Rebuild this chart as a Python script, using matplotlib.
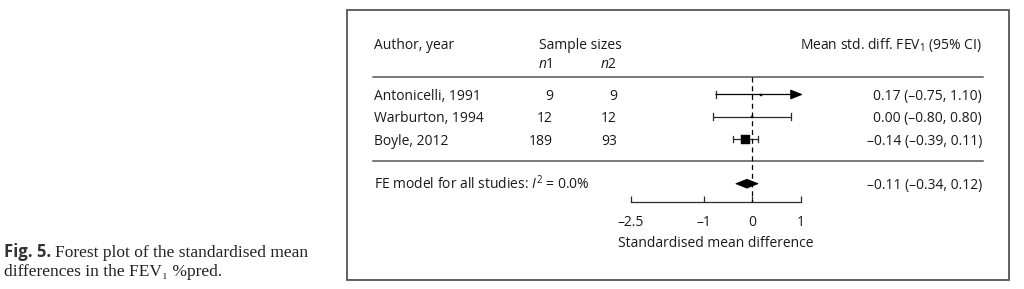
import matplotlib
matplotlib.use("Agg")
import matplotlib.pyplot as plt
import matplotlib.patches as mpatches
import numpy as np

# ---- data ----
authors = ["Antonicelli, 1991", "Warburton, 1994", "Boyle, 2012"]
n1 = [9, 12, 189]
n2 = [9, 12, 93]
smd = [0.17, 0.00, -0.14]
ci_lo = [-0.75, -0.80, -0.39]
ci_hi = [1.10, 0.80, 0.11]
pooled = -0.11
pooled_lo = -0.34
pooled_hi = 0.12
i2 = 0.0
xticks = [-2.5, -1, 0, 1]
xlabel = "Standardised mean difference"

plt.rcParams['mathtext.fontset'] = 'custom'
plt.rcParams['mathtext.rm'] = 'Open Sans'
plt.rcParams['mathtext.it'] = 'Open Sans:italic'
plt.rcParams['mathtext.bf'] = 'Open Sans:bold'
plt.rcParams['font.family'] = ['Open Sans', 'DejaVu Sans']

W, H = 1024, 289
fig = plt.figure(figsize=(W / 100, H / 100), dpi=100)
ax = fig.add_axes([0, 0, 1, 1])

# pixel mapping (x: effect scale; y: row index)
x0px, xunit = 752.3, 48.7
y0px, yunit = 94.5, 22.3
ax.set_xlim((0 - x0px) / xunit, (W - x0px) / xunit)
ax.set_ylim((H - y0px) / yunit, (0 - y0px) / yunit)
for s in ["top", "right", "left"]:
    ax.spines[s].set_visible(False)
ax.patch.set_alpha(0)
ax.set_yticks([])

def fx(p):
    return p / W

def ry(p):
    return (p - y0px) / yunit

TXT = "#1a1a1a"
LINE = "#2a2a2a"
FS = 10.0
yt = ax.get_yaxis_transform()

rows = np.arange(len(authors))
base = 0.25  # baseline offset from row centre

# header
ax.text(fx(374), ry(49.3), "Author, year", transform=yt, ha="left", va="baseline", fontsize=FS, color=TXT)
ax.text(fx(580), ry(49.3), "Sample sizes", transform=yt, ha="center", va="baseline", fontsize=FS, color=TXT)
ax.text(fx(553), ry(68.3), r"$\mathit{n}$1", transform=yt, ha="right", va="baseline", fontsize=FS, color=TXT)
ax.text(fx(617), ry(68.3), r"$\mathit{n}$2", transform=yt, ha="right", va="baseline", fontsize=FS, color=TXT)
ax.text(fx(982), ry(49.3), r"Mean std. diff. FEV$_1$ (95% CI)", transform=yt, ha="right", va="baseline", fontsize=FS, color=TXT)

def fmt(v):
    return f"{v:.2f}".replace("-", "\u2013")

top_line = -0.8
bot_line = len(authors)
pooled_row = len(authors) + 1
axis_row = ry(202.3)

for r, a, a1, a2, m, lo, hi in zip(rows, authors, n1, n2, smd, ci_lo, ci_hi):
    ax.text(fx(374), r + base, a, transform=yt, ha="left", va="baseline", fontsize=FS, color=TXT)
    ax.text(fx(553), r + base, str(a1), transform=yt, ha="right", va="baseline", fontsize=FS, color=TXT)
    ax.text(fx(617), r + base, str(a2), transform=yt, ha="right", va="baseline", fontsize=FS, color=TXT)
    ax.text(fx(982), r + base, f"{fmt(m)} ({fmt(lo)}, {fmt(hi)})", transform=yt,
            ha="right", va="baseline", fontsize=FS, color=TXT)

# forest marks
alim_lo, alim_hi = xticks[0], xticks[-1]
weights = np.array(n1) + np.array(n2)
sizes_px = 9.0 * np.sqrt(weights / weights.max())
cap = 0.15
for r, m, lo, hi, spx in zip(rows, smd, ci_lo, ci_hi, sizes_px):
    right = min(hi, alim_hi)
    if hi > alim_hi:
        ax.annotate("", xy=(alim_hi + 0.04, r), xytext=(lo, r),
                    arrowprops=dict(arrowstyle="-|>,head_length=0.75,head_width=0.3",
                                    color="black", lw=0.9, shrinkA=0, shrinkB=0))
    else:
        ax.plot([lo, right], [r, r], color=LINE, lw=0.9, solid_capstyle="butt")
        ax.plot([right, right], [r - cap, r + cap], color=LINE, lw=0.9)
    ax.plot([lo, lo], [r - cap, r + cap], color=LINE, lw=0.9)
    ax.plot([m], [r], marker="s", ms=max(spx, 2.2) * 0.72, color="black", mec="black", mew=0.3, zorder=4)

# pooled diamond
dh = 0.2
ax.fill([pooled_lo, pooled, pooled_hi, pooled],
        [pooled_row, pooled_row - dh, pooled_row, pooled_row + dh],
        color="black", lw=0.5, zorder=4)
ax.text(fx(374), pooled_row + base, r"FE model for all studies: $\mathit{I}^2$ = " + f"{i2:.1f}%",
        transform=yt, ha="left", va="baseline", fontsize=FS, color=TXT)
ax.text(fx(982), pooled_row + base, f"{fmt(pooled)} ({fmt(pooled_lo)}, {fmt(pooled_hi)})",
        transform=yt, ha="right", va="baseline", fontsize=FS, color=TXT)

# separator lines
for yy in (top_line, bot_line):
    ax.plot([fx(373), fx(983)], [yy, yy], transform=yt, color="#555555", lw=1.1)

# reference dashed line at 0
ax.plot([0, 0], [top_line, axis_row], color="black", lw=0.9, dashes=(4, 3), zorder=3)

# bottom axis
ax.spines["bottom"].set_position(("data", axis_row))
ax.spines["bottom"].set_bounds(alim_lo, alim_hi)
ax.spines["bottom"].set_color(LINE)
ax.spines["bottom"].set_linewidth(0.9)
ax.set_xticks(xticks)
ax.set_xticklabels([("%g" % t).replace("-", "\u2013") for t in xticks])
ax.tick_params(axis="x", direction="in", length=4.5, width=0.9, color=LINE,
               labelsize=FS, labelcolor=TXT, pad=9)
ax.text((alim_lo + alim_hi) / 2, ry(247.3), xlabel, ha="center", va="baseline", fontsize=FS, color=TXT)

# frame box
fig.patches.append(mpatches.Rectangle((346.7 / W, 1 - 280 / H), (1009 - 346.7) / W, (280 - 10) / H,
                                      transform=fig.transFigure, fill=False, ec="#555555", lw=1.3))

# caption
cap_fs = 12.5
serif = ['Liberation Serif', 'DejaVu Serif']
t1 = fig.text(4 / W, 1 - 256.7 / H, "Fig. 5.", fontsize=cap_fs - 0.5, family=['Open Sans', 'DejaVu Sans'],
              weight="bold", color="#333333", ha="left", va="baseline")
fig.canvas.draw()
bb = t1.get_window_extent()
fig.text((bb.x1 + 4) / W, 1 - 256.7 / H, "Forest plot of the standardised mean", fontsize=cap_fs,
         family=serif, color="#222222", ha="left", va="baseline")
fig.text(4 / W, 1 - 276 / H, "differences in the FEV\u2081 %pred.", fontsize=cap_fs,
         family=serif, color="#222222", ha="left", va="baseline")

fig.savefig("out.png", dpi=100)
